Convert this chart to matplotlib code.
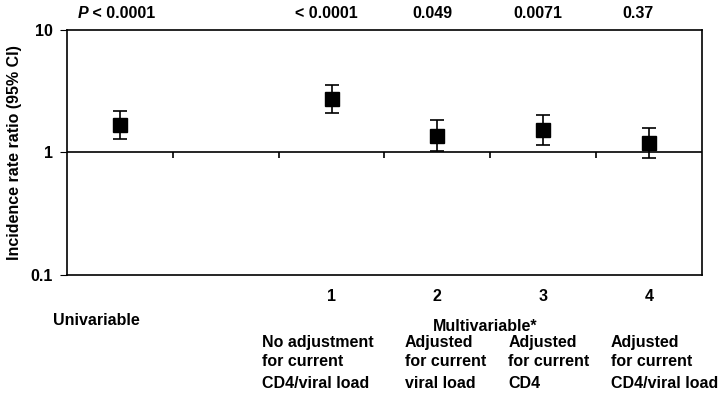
import matplotlib
matplotlib.use('Agg')
import matplotlib.pyplot as plt

plt.rcParams['font.family'] = ['Liberation Sans', 'DejaVu Sans']
plt.rcParams['font.weight'] = 'bold'

# data
positions = [1, 3, 4, 5, 6]
irr = [1.66, 2.71, 1.36, 1.52, 1.20]
ci_low = [1.30, 2.11, 1.02, 1.15, 0.905]
ci_high = [2.17, 3.52, 1.84, 2.02, 1.59]
p_labels = ['< 0.0001', '0.049', '0.0071', '0.37']
model_numbers = ['1', '2', '3', '4']
line1 = ['No adjustment', 'Adjusted', 'Adjusted', 'Adjusted']
line2 = ['for current', 'for current', 'for current', 'for current']
line3 = ['CD4/viral load', 'viral load', 'CD4', 'CD4/viral load']

FS = 11.5

fig = plt.figure(figsize=(7.2, 3.93), dpi=100)
ax = fig.add_axes([0.093, 0.300, 0.882, 0.624])

err_lo = [v - l for v, l in zip(irr, ci_low)]
err_hi = [h - v for v, h in zip(irr, ci_high)]
ax.errorbar(positions, irr, yerr=[err_lo, err_hi], fmt='s', color='black',
            markersize=9.5, capsize=4.7, elinewidth=1.2, capthick=1.2)

ax.set_yscale('log')
ax.set_ylim(0.1, 10)
ax.set_xlim(0.5, 6.5)
ax.set_yticks([0.1, 1, 10])
ax.set_yticklabels(['0.1', '1', '10'])
ax.minorticks_off()
ax.tick_params(axis='y', direction='out', length=5, pad=5, labelsize=FS)
ax.set_xticks([])
for s in ax.spines.values():
    s.set_linewidth(1.2)

# horizontal axis at 1 with category ticks
ax.axhline(1, color='black', linewidth=1.2)
ax.plot([1.5, 2.5, 3.5, 4.5, 5.5], [1] * 5, linestyle='none', marker=3,
        markersize=4, color='black', markeredgewidth=1.2)

ax.set_ylabel('Incidence rate ratio (95% CI)', fontsize=FS, fontweight='bold', labelpad=6)

tr = ax.get_xaxis_transform()
ax.text(0.70, 1.065, 'P', transform=tr, ha='right', va='center', fontsize=FS,
        fontstyle='italic')
ax.text(0.70, 1.065, ' < 0.0001', transform=tr, ha='left', va='center', fontsize=FS)
p_x = [2.95, 3.95, 4.95, 5.9]
for x, p in zip(p_x, p_labels):
    ax.text(x, 1.065, p, transform=tr, ha='center', va='center', fontsize=FS)

for x, n in zip([3, 4, 5, 6], model_numbers):
    ax.text(x, -0.086, n, transform=tr, ha='center', va='center', fontsize=FS)

ax.text(0.37, -0.184, 'Univariable', transform=tr, ha='left', va='center', fontsize=FS)
ax.text(4.45, -0.208, 'Multivariable*', transform=tr, ha='center', va='center', fontsize=FS)

left_x = [2.34, 3.69, 4.67, 5.64]
for x, a, b, c in zip(left_x, line1, line2, line3):
    ax.text(x, -0.273, a, transform=tr, ha='left', va='center', fontsize=FS)
    ax.text(x, -0.351, b, transform=tr, ha='left', va='center', fontsize=FS)
    ax.text(x, -0.441, c, transform=tr, ha='left', va='center', fontsize=FS)

fig.savefig('out.png', dpi=100)
